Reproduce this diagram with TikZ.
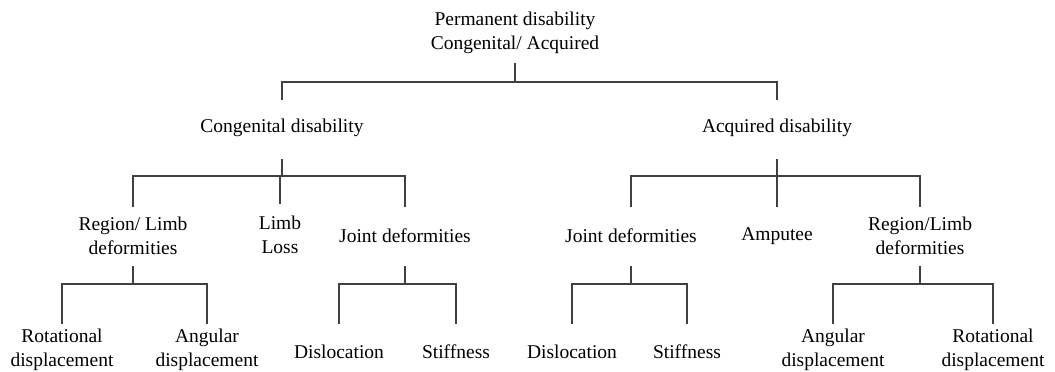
\documentclass[tikz,border=0pt]{standalone}
\usepackage{fontspec}
\setmainfont{Liberation Serif}
\begin{document}
\begin{tikzpicture}[x=1pt,y=-1pt,
  lbl/.style={inner sep=0pt,align=center,text=black,
    font=\fontsize{19.5}{24}\selectfont},
  link/.style={draw=black!75,line width=1.3pt}]
\useasboundingbox (0,0) rectangle (1055,372);

% nodes
\node[lbl] (perm) at (515,33) {Permanent disability\\Congenital/ Acquired};
\node[lbl] (cong) at (282,128) {Congenital disability};
\node[lbl] (acq)  at (777,128) {Acquired disability};

\node[lbl] (regC)   at (133,236) {Region/ Limb\\deformities};
\node[lbl] (loss)   at (280,235) {Limb\\Loss};
\node[lbl] (jointC) at (405,236) {Joint deformities};

\node[lbl] (jointA) at (631,236) {Joint deformities};
\node[lbl] (amp)    at (777,236) {Amputee};
\node[lbl] (regA)   at (920,236) {Region/Limb\\deformities};

\node[lbl] (rotC) at (62,350)  {Rotational\\displacement};
\node[lbl] (angC) at (207,350) {Angular\\displacement};
\node[lbl] (disC) at (339,352) {Dislocation};
\node[lbl] (stfC) at (456,352) {Stiffness};
\node[lbl] (disA) at (572,352) {Dislocation};
\node[lbl] (stfA) at (687,352) {Stiffness};
\node[lbl] (angA) at (833,350) {Angular\\displacement};
\node[lbl] (rotA) at (993,350) {Rotational\\displacement};

% level 1
\draw[link] (perm |- 0,63) -- (perm |- 0,82);
\draw[link] (cong |- 0,100) |- (acq |- 0,82) -- (acq |- 0,100);

% level 2 (congenital)
\draw[link] (cong |- 0,159) -- (cong |- 0,176);
\draw[link] (regC |- 0,207) |- (jointC |- 0,176) -- (jointC |- 0,207);
\draw[link] (loss |- 0,176) -- (loss |- 0,204);

% level 2 (acquired)
\draw[link] (acq |- 0,159) -- (acq |- 0,176);
\draw[link] (jointA |- 0,207) |- (regA |- 0,176) -- (regA |- 0,207);
\draw[link] (amp |- 0,176) -- (amp |- 0,207);

% level 3
\draw[link] (regC |- 0,266) -- (regC |- 0,284);
\draw[link] (rotC |- 0,324) |- (angC |- 0,284) -- (angC |- 0,324);
\draw[link] (jointC |- 0,266) -- (jointC |- 0,284);
\draw[link] (disC |- 0,324) |- (stfC |- 0,284) -- (stfC |- 0,324);
\draw[link] (jointA |- 0,266) -- (jointA |- 0,284);
\draw[link] (disA |- 0,324) |- (stfA |- 0,284) -- (stfA |- 0,324);
\draw[link] (regA |- 0,266) -- (regA |- 0,284);
\draw[link] (angA |- 0,324) |- (rotA |- 0,284) -- (rotA |- 0,324);
\end{tikzpicture}
\end{document}
